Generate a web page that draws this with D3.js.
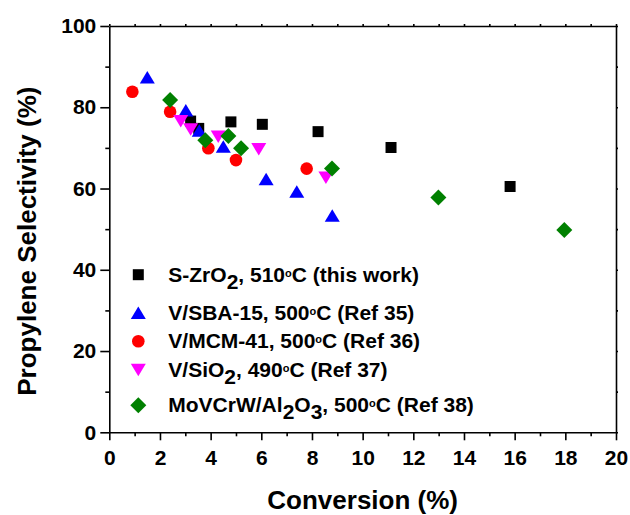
<!DOCTYPE html>
<html>
<head>
<meta charset="utf-8">
<script src="https://cdn.jsdelivr.net/npm/d3@7"></script>
<style>
  body { margin: 0; background: #fff; }
  svg { display: block; font-family: "Liberation Sans", Arial, sans-serif; font-weight: bold; }
</style>
</head>
<body>
<div id="chart"></div>
<script>
const width = 630;
const height = 515;

// S-ZrO2, 510 C (this work)
const szrX = [3.21, 3.53, 4.80, 6.04, 8.24, 11.12, 15.82];
const szrY = [76.6, 74.8, 76.4, 75.8, 74.0, 70.1, 60.5];
// V/SBA-15 (Ref 35)
const sbaX = [1.50, 3.02, 3.55, 4.50, 6.19, 7.40, 8.80];
const sbaY = [87.3, 79.2, 74.2, 70.3, 62.3, 59.2, 53.3];
// V/MCM-41 (Ref 36)
const mcmX = [0.91, 2.40, 3.91, 5.00, 7.79];
const mcmY = [83.8, 78.9, 69.9, 67.0, 64.9];
// V/SiO2 (Ref 37)
const sioX = [2.82, 3.21, 4.30, 5.90, 8.55];
const sioY = [76.6, 74.6, 72.8, 69.7, 62.7];
// MoVCrW/Al2O3 (Ref 38)
const movX = [2.40, 3.79, 4.70, 5.20, 8.79, 12.99, 17.96];
const movY = [81.8, 71.9, 72.9, 69.9, 64.9, 57.8, 49.8];

// _2 = subscript, ^o = small raised o
const legendLabels = [
  "S-ZrO_2, 510^oC (this work)",
  "V/SBA-15, 500^oC (Ref 35)",
  "V/MCM-41, 500^oC (Ref 36)",
  "V/SiO_2, 490^oC (Ref 37)",
  "MoVCrW/Al_2O_3, 500^oC (Ref 38)"
];

const xTicks = d3.range(0, 21, 2);
const yTicks = [0, 20, 40, 60, 80, 100];

const seriesData = [
  [szrX, szrY], [sbaX, sbaY], [mcmX, mcmY], [sioX, sioY], [movX, movY]
];
const seriesStyle = [
  { shape: "square", color: "#000000" },
  { shape: "triUp", color: "#0000ff" },
  { shape: "circle", color: "#ff0000" },
  { shape: "triDown", color: "#ff00ff" },
  { shape: "diamond", color: "#008000" }
];

const shapePath = {
  square: () => "M-5.5,-5.5h11v11h-11Z",
  triUp: () => "M0,-6.5L7.5,6L-7.5,6Z",
  triDown: () => "M0,6.5L7.5,-6L-7.5,-6Z",
  diamond: () => "M0,-8L8,0L0,8L-8,0Z",
  circle: () => d3.symbol(d3.symbolCircle, Math.PI * 6.3 * 6.3)()
};

const margin = { left: 109.3, right: 14, top: 26, bottom: 82.7 };

const x = d3.scaleLinear().domain([0, 20]).range([margin.left, width - margin.right]);
const y = d3.scaleLinear().domain([0, 100]).range([height - margin.bottom, margin.top]);

const svg = d3.select("#chart").append("svg")
  .attr("width", width)
  .attr("height", height);

// axes
const axisW = 1.6;
svg.append("g")
  .attr("transform", `translate(0,${y(0)})`)
  .call(d3.axisBottom(x).tickValues(d3.range(1, 20, 2)).tickSize(4).tickFormat(""))
  .call(g => g.select(".domain").remove())
  .call(g => g.selectAll("text").remove());
svg.append("g")
  .attr("transform", `translate(0,${y(0)})`)
  .call(d3.axisBottom(x).tickValues(xTicks).tickSize(8).tickPadding(10).tickSizeOuter(0))
  .call(g => g.selectAll("text").attr("font-size", 21).attr("font-family", null).attr("font-weight", "bold").attr("fill", "#000"));

svg.append("g")
  .attr("transform", `translate(${x(0)},0)`)
  .call(d3.axisLeft(y).tickValues(d3.range(10, 100, 20)).tickSize(4).tickFormat(""))
  .call(g => g.select(".domain").remove())
  .call(g => g.selectAll("text").remove());
svg.append("g")
  .attr("transform", `translate(${x(0)},0)`)
  .call(d3.axisLeft(y).tickValues(yTicks).tickSize(9).tickPadding(4).tickSizeOuter(0))
  .call(g => g.selectAll("text").attr("font-size", 21).attr("font-family", null).attr("font-weight", "bold").attr("fill", "#000"));

// top and right frame with small ticks
svg.append("g")
  .attr("transform", `translate(0,${y(100)})`)
  .call(d3.axisTop(x).tickValues(d3.range(0, 21, 1)).tickSize(2).tickFormat("").tickSizeOuter(0))
  .call(g => g.selectAll("text").remove());
svg.append("g")
  .attr("transform", `translate(${x(20)},0)`)
  .call(d3.axisRight(y).tickValues(d3.range(0, 101, 10)).tickSize(2).tickFormat("").tickSizeOuter(0))
  .call(g => g.selectAll("text").remove());

svg.selectAll(".domain, .tick line").attr("stroke", "#000").attr("stroke-width", axisW);

// axis titles
svg.append("text")
  .attr("x", (x(0) + x(20)) / 2)
  .attr("y", 509)
  .attr("text-anchor", "middle")
  .attr("font-size", 26)
  .text("Conversion (%)");

svg.append("text")
  .attr("transform", `translate(36,${(y(0) + y(100)) / 2 + 12}) rotate(-90)`)
  .attr("text-anchor", "middle")
  .attr("font-size", 26)
  .text("Propylene Selectivity (%)");

// points
seriesData.forEach(([xs, ys], i) => {
  const st = seriesStyle[i];
  svg.append("g").selectAll("path")
    .data(xs.map((v, j) => [v, ys[j]]))
    .join("path")
    .attr("transform", d => `translate(${x(d[0])},${y(d[1])})`)
    .attr("d", shapePath[st.shape]())
    .attr("fill", st.color);
});

// legend
const legendBase = [281.7, 320, 348.3, 376.7, 412.3];
const legend = svg.append("g");
legendLabels.forEach((label, i) => {
  const st = seriesStyle[i];
  legend.append("path")
    .attr("transform", `translate(138.3,${legendBase[i] - 7})`)
    .attr("d", shapePath[st.shape]())
    .attr("fill", st.color);
  const t = legend.append("text")
    .attr("x", 168.3)
    .attr("y", legendBase[i])
    .attr("font-size", 21);
  const parts = label.split(/(_\d|\^o)/).filter(p => p !== "");
  let shift = 0; // current baseline offset, undone on the next part
  parts.forEach(p => {
    let dy = -shift;
    let txt = p;
    let size = null;
    if (p.startsWith("_")) {
      txt = p.slice(1);
      shift = 7;
    } else if (p === "^o") {
      txt = "o";
      size = 11;
      shift = -5;
    } else {
      shift = 0;
    }
    dy += shift;
    const ts = t.append("tspan").text(txt);
    if (dy) ts.attr("dy", dy);
    if (size) ts.attr("font-size", size);
  });
});
</script>
</body>
</html>
